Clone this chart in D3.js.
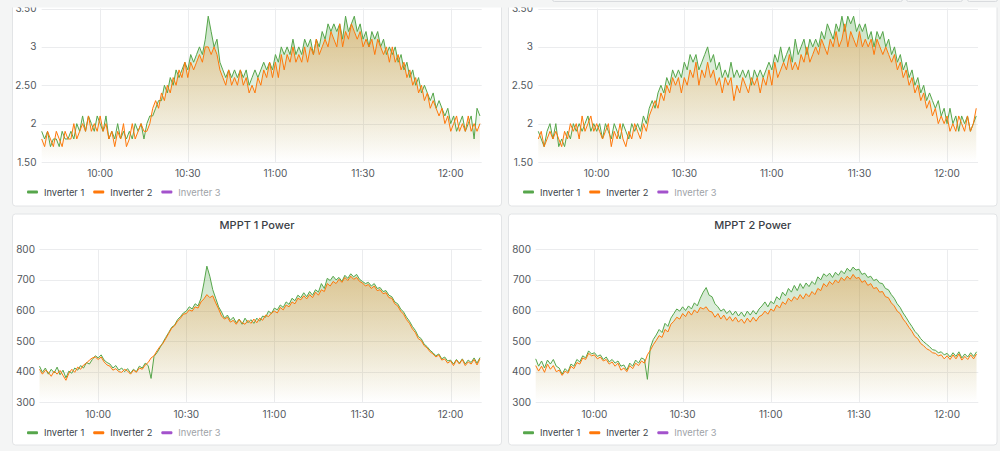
<!DOCTYPE html>
<html><head><meta charset="utf-8">
<script src="https://cdn.jsdelivr.net/npm/d3@7"></script>
<style>
html,body{margin:0;padding:0;background:#f4f5f5;}
svg{display:block;font-family:Inter, Roboto, "Noto Sans", sans-serif;}
</style></head><body>
<svg id="c" width="1000" height="451"></svg>
<script>
// ---------- DATA (one sample per minute from 09:40 to 12:10) ----------
const seriesNames = ["Inverter 1", "Inverter 2", "Inverter 3"];
const xTickLabels = ["10:00", "10:30", "11:00", "11:30", "12:00"];
const yTicksTop = [1.5, 2, 2.5, 3, 3.5];
const yTicksBottom = [300, 400, 500, 600, 700, 800];
const panelTitles = ["", "", "MPPT 1 Power", "MPPT 2 Power"];

const tlGreen = [
1.9,1.8,1.9,1.7,1.8,1.8,1.7,1.9,1.8,1.8,
1.9,1.8,2.0,1.9,2.1,1.9,2.1,2.0,1.9,2.1,
2.0,1.9,2.1,1.8,1.9,1.8,2.0,1.8,1.9,1.8,
1.9,1.8,2.0,1.9,2.0,1.8,2.0,2.1,2.1,2.2,
2.3,2.3,2.5,2.4,2.6,2.5,2.7,2.6,2.7,2.8,
2.7,2.9,2.8,2.9,3.0,2.9,3.1,3.4,3.2,3.0,
3.1,2.8,2.7,2.6,2.7,2.6,2.7,2.6,2.7,2.6,
2.7,2.5,2.6,2.7,2.6,2.7,2.8,2.7,2.8,2.7,
2.9,2.8,3.0,2.9,3.0,2.9,3.1,2.9,3.0,2.9,
3.1,3.0,3.1,2.9,3.1,3.0,3.2,3.1,3.3,3.2,
3.3,3.2,3.3,3.1,3.4,3.2,3.3,3.4,3.2,3.3,
3.1,3.2,3.0,3.2,3.1,3.2,3.0,3.1,2.9,3.0,
2.9,3.0,2.8,2.9,2.7,2.8,2.6,2.7,2.5,2.6,
2.4,2.5,2.4,2.3,2.4,2.2,2.3,2.2,2.1,2.2,
2.0,2.1,1.9,2.0,2.1,1.9,2.0,2.1,1.8,2.2,2.1];
const tlOrange = [
1.8,1.7,1.9,1.8,1.7,1.9,1.8,1.7,1.9,1.8,
1.8,2.0,1.8,1.9,2.0,1.9,2.1,1.9,2.0,1.9,
2.1,1.9,2.0,1.8,1.9,1.7,1.9,1.8,2.0,1.7,
1.8,2.0,1.8,1.9,2.0,1.9,1.9,2.0,2.2,2.3,
2.2,2.4,2.3,2.5,2.4,2.6,2.5,2.7,2.6,2.8,
2.6,2.8,2.7,2.8,2.9,2.8,3.0,3.0,2.9,3.0,
2.9,2.7,2.6,2.5,2.7,2.5,2.6,2.5,2.7,2.5,
2.6,2.4,2.5,2.4,2.6,2.5,2.7,2.6,2.8,2.6,
2.8,2.6,2.9,2.7,2.9,2.8,3.0,2.8,2.9,2.8,
3.0,2.8,3.0,2.9,3.1,2.9,3.0,3.1,3.0,3.2,
3.1,3.0,3.3,3.0,3.2,3.1,3.3,3.2,3.1,3.2,
3.0,3.1,3.0,3.1,2.9,3.1,3.0,2.9,3.0,2.8,
3.0,2.8,2.9,2.7,2.8,2.6,2.7,2.5,2.6,2.4,
2.5,2.3,2.4,2.2,2.3,2.2,2.1,2.2,2.0,2.1,
1.9,2.0,2.1,1.9,2.0,1.9,2.1,1.9,2.0,1.9,2.0];
const trGreen = [
1.9,1.8,1.7,1.9,2.0,1.8,2.0,1.7,1.8,1.7,
1.9,1.8,2.0,1.9,2.0,1.9,2.0,2.1,1.9,2.0,
1.9,2.0,1.8,2.0,1.9,1.8,2.0,1.9,1.8,2.0,
1.9,1.8,2.0,1.9,2.0,1.9,2.1,2.0,2.2,2.3,
2.2,2.4,2.5,2.4,2.6,2.5,2.7,2.6,2.7,2.6,
2.8,2.7,2.9,2.8,2.9,2.7,2.8,2.9,3.0,2.8,
2.9,2.7,2.8,2.6,2.7,2.6,2.8,2.6,2.7,2.6,
2.7,2.6,2.7,2.5,2.7,2.6,2.7,2.6,2.7,2.8,
2.7,2.9,2.8,3.0,2.8,2.9,3.0,2.8,3.1,2.9,
3.0,3.1,2.9,3.1,3.0,3.1,3.0,3.2,3.1,3.3,
3.2,3.1,3.3,3.2,3.4,3.2,3.4,3.3,3.4,3.2,
3.3,3.2,3.3,3.1,3.2,3.0,3.2,3.1,3.2,3.0,
3.1,2.9,3.0,2.8,2.9,2.7,2.8,2.6,2.7,2.5,
2.6,2.4,2.5,2.3,2.4,2.3,2.2,2.3,2.1,2.2,
2.0,2.2,2.0,2.1,1.9,2.1,2.0,2.1,1.9,2.0,2.1];
const trOrange = [
1.8,1.9,1.7,1.8,1.9,1.8,1.9,1.8,1.7,1.9,
1.8,2.0,1.9,2.0,1.8,2.1,1.9,2.0,2.1,1.9,
2.0,1.9,1.8,1.9,2.0,1.7,1.9,1.8,2.0,1.8,
1.7,1.9,1.8,2.0,1.9,1.8,2.0,1.9,2.1,2.2,
2.3,2.2,2.4,2.3,2.5,2.4,2.6,2.5,2.6,2.4,
2.6,2.5,2.7,2.6,2.8,2.5,2.7,2.6,2.8,2.6,
2.7,2.5,2.6,2.4,2.6,2.5,2.6,2.3,2.5,2.4,
2.6,2.5,2.4,2.6,2.5,2.6,2.4,2.6,2.5,2.7,
2.5,2.8,2.6,2.7,2.8,2.7,2.9,2.7,2.8,2.7,
2.9,2.8,3.0,2.8,2.9,3.0,2.9,3.1,3.0,2.9,
3.1,3.0,3.2,3.0,3.1,3.3,3.0,3.2,3.1,3.0,
3.2,3.0,3.1,3.0,3.1,2.9,3.1,3.0,2.9,3.0,
2.9,2.8,2.9,2.7,2.8,2.6,2.7,2.5,2.6,2.4,
2.5,2.3,2.4,2.2,2.3,2.1,2.2,2.0,2.1,2.0,
2.1,1.9,2.0,1.9,2.1,2.0,1.9,2.1,1.9,2.0,2.2];
const blGreen = [
418,398,412,392,408,396,415,390,405,380,
402,395,412,405,420,412,430,425,440,452,
445,455,438,430,425,412,420,405,412,400,
410,395,408,400,418,412,428,420,378,450,
462,478,495,512,528,545,552,570,580,592,
598,612,605,622,615,640,690,745,712,668,
640,612,595,575,585,568,578,560,572,555,
575,560,570,558,575,565,582,578,598,590,
608,602,618,610,628,620,640,632,650,642,
658,645,662,650,668,660,688,672,705,698,
712,700,708,695,715,705,720,710,718,702,
695,688,692,680,688,672,675,662,665,650,
645,628,622,605,595,578,565,548,535,515,
508,490,482,470,462,452,458,442,448,435,
438,425,440,428,442,425,438,430,445,428,446];
const blOrange = [
408,392,405,398,385,402,392,404,388,372,
395,408,398,415,408,422,428,438,445,448,
440,448,432,422,418,405,410,400,398,408,
402,392,405,398,412,408,422,430,445,452,
468,482,492,508,525,542,550,565,575,588,
590,602,598,612,608,628,638,652,642,648,
625,605,582,572,578,562,568,555,570,560,
555,568,558,572,560,575,568,585,580,592,
598,592,610,602,618,612,628,622,640,635,
648,638,652,642,660,650,668,662,688,680,
695,688,702,692,708,698,712,702,708,695,
690,680,685,672,680,665,668,655,658,642,
640,622,615,598,588,570,558,540,528,508,
502,485,478,465,458,448,455,438,442,428,
435,420,438,425,440,420,432,425,440,422,442];
const brGreen = [
442,418,435,412,438,425,440,418,412,392,
410,400,425,418,440,432,452,445,468,458,
462,450,455,440,448,432,440,428,435,418,
422,405,428,418,438,428,445,440,375,478,
505,520,538,528,558,548,575,590,605,598,
612,600,615,605,625,615,640,660,675,650,
645,622,612,598,605,590,600,585,598,582,
595,580,598,585,600,588,605,615,628,612,
630,622,645,635,660,648,672,660,682,665,
688,672,690,678,695,685,710,700,720,712,
722,708,725,715,730,720,738,728,742,732,
735,718,722,708,712,698,702,690,688,672,
668,652,640,622,610,592,578,562,548,532,
522,508,498,490,482,472,470,462,465,455,
460,448,462,450,465,445,458,448,462,450,465];
const brOrange = [
420,402,418,398,425,408,420,400,405,388,
402,395,418,410,430,425,445,440,460,452,
455,442,448,435,440,425,432,418,428,405,
412,400,420,410,428,420,435,428,455,470,
488,502,518,512,538,530,555,565,578,572,
590,580,598,585,602,592,610,605,612,598,
595,578,590,572,585,568,580,565,578,562,
572,558,575,562,578,565,580,585,598,588,
605,598,618,608,628,620,640,630,645,635,
652,638,655,645,662,652,672,665,688,678,
695,685,700,690,708,698,712,702,718,705,
708,692,698,682,688,672,675,660,662,645,
642,625,615,598,590,572,560,545,532,515,
508,492,485,475,470,462,460,452,455,442,
452,440,455,442,458,438,450,440,455,442,458];

// ---------- RENDER ----------
const startTime = new Date(2024, 0, 1, 9, 40, 0);
const endTime = new Date(2024, 0, 1, 12, 10, 36);
const timeAt = i => new Date(startTime.getTime() + i * 60000);
const tickTimes = xTickLabels.map(s => { const [h, m] = s.split(":").map(Number); return new Date(2024, 0, 1, h, m); });

const colors = ["#56a64b", "#ff780a", "#a352cc"];
const svg = d3.select("#c");
const defs = svg.append("defs");

svg.append("rect").attr("width", 1000).attr("height", 451).attr("fill", "#f4f5f5");

const panels = [
  {box: [12.5, -30, 489, 236], xr: [41.7, 481.7], yr: [162, 8.5], dom: [1.5, 3.5], ticks: yTicksTop, labX: 36.5, data: [tlGreen, tlOrange], title: panelTitles[0], xLabY: 173, legY: 192},
  {box: [508.5, -30, 488.5, 236], xr: [538.3, 978], yr: [162, 8.5], dom: [1.5, 3.5], ticks: yTicksTop, labX: 533, data: [trGreen, trOrange], title: panelTitles[1], xLabY: 173, legY: 192},
  {box: [12.5, 214, 489, 231], xr: [39.5, 481.7], yr: [402.3, 249.3], dom: [300, 800], ticks: yTicksBottom, labX: 35, data: [blGreen, blOrange], title: panelTitles[2], xLabY: 414.5, legY: 432.7},
  {box: [508.5, 214, 488.5, 231], xr: [535.7, 978.3], yr: [402.3, 249.3], dom: [300, 800], ticks: yTicksBottom, labX: 531, data: [brGreen, brOrange], title: panelTitles[3], xLabY: 414.5, legY: 432.7}
];

const fmtY = v => (v % 1 === 0 ? String(v) : v.toFixed(2));

panels.forEach((p, pi) => {
  const g = svg.append("g");
  const [bx, by, bw, bh] = p.box;
  g.append("rect").attr("x", bx).attr("y", by).attr("width", bw).attr("height", bh)
    .attr("rx", 3).attr("fill", "#ffffff").attr("stroke", "#e2e4e6").attr("stroke-width", 1);

  if (p.title) {
    g.append("text").attr("x", bx + bw / 2).attr("y", 229)
      .attr("text-anchor", "middle").attr("font-size", 11).attr("font-weight", 500)
      .attr("fill", "#3b4046").text(p.title);
  }

  const x = d3.scaleTime().domain([startTime, endTime]).range(p.xr);
  const y = d3.scaleLinear().domain(p.dom).range(p.yr);

  // grid
  g.append("g").selectAll("line.h").data(p.ticks).join("line")
    .attr("x1", p.xr[0]).attr("x2", p.xr[1])
    .attr("y1", d => Math.round(y(d)) + 0.5).attr("y2", d => Math.round(y(d)) + 0.5)
    .attr("stroke", "#ebecee").attr("stroke-width", 1);
  g.append("g").selectAll("line.v").data(tickTimes).join("line")
    .attr("x1", d => Math.round(x(d)) + 0.5).attr("x2", d => Math.round(x(d)) + 0.5)
    .attr("y1", p.yr[1]).attr("y2", p.yr[0])
    .attr("stroke", "#ebecee").attr("stroke-width", 1);

  // y labels
  g.append("g").selectAll("text").data(p.ticks).join("text")
    .attr("x", p.labX).attr("y", d => y(d) + 3.5)
    .attr("text-anchor", "end").attr("font-size", 10).attr("fill", "#52575d")
    .text(fmtY);
  // x labels
  g.append("g").selectAll("text").data(tickTimes).join("text")
    .attr("x", d => x(d)).attr("y", p.xLabY + 3.5)
    .attr("text-anchor", "middle").attr("font-size", 10).attr("fill", "#52575d")
    .text((d, i) => xTickLabels[i]);

  // series fills
  p.data.forEach((vals, si) => {
    const gid = `grad${pi}_${si}`;
    const lg = defs.append("linearGradient").attr("id", gid)
      .attr("gradientUnits", "userSpaceOnUse")
      .attr("x1", 0).attr("x2", 0).attr("y1", p.yr[1]).attr("y2", p.yr[0]);
    lg.append("stop").attr("offset", 0).attr("stop-color", colors[si]).attr("stop-opacity", 0.34);
    lg.append("stop").attr("offset", 1).attr("stop-color", colors[si]).attr("stop-opacity", 0.0);

    const pts = vals.map((v, i) => [timeAt(i), v]);
    const area = d3.area().x(d => x(d[0])).y0(p.yr[0]).y1(d => y(d[1]));
    g.append("path").attr("d", area(pts)).attr("fill", `url(#${gid})`);
  });
  // series lines
  p.data.forEach((vals, si) => {
    const pts = vals.map((v, i) => [timeAt(i), v]);
    const line = d3.line().x(d => x(d[0])).y(d => y(d[1]));
    g.append("path").attr("d", line(pts)).attr("fill", "none")
      .attr("stroke", colors[si]).attr("stroke-width", 1).attr("stroke-linejoin", "round");
  });

  // legend
  let lx = bx + 14.5;
  seriesNames.forEach((name, si) => {
    g.append("rect").attr("x", lx).attr("y", p.legY - 1.5).attr("width", 11).attr("height", 3)
      .attr("rx", 1).attr("fill", colors[si]);
    const t = g.append("text").attr("x", lx + 17).attr("y", p.legY + 3.5)
      .attr("font-size", 9.3).attr("fill", si === 2 ? "#9ea2a7" : "#40454b").text(name);
    lx = lx + 17 + t.node().getComputedTextLength() + 9;
  });
});

// sticky header strip at the top (dashboard toolbar, mostly scrolled off)
svg.append("rect").attr("x", 0).attr("y", 0).attr("width", 1000).attr("height", 7.5).attr("fill", "#f4f5f5");
svg.append("rect").attr("x", 552.5).attr("y", -20).attr("width", 350).attr("height", 21.5)
  .attr("rx", 2).attr("fill", "#f4f5f5").attr("stroke", "#d9dbde");
svg.append("rect").attr("x", 906.5).attr("y", -20).attr("width", 56).attr("height", 21.5)
  .attr("rx", 2).attr("fill", "#f4f5f5").attr("stroke", "#d9dbde");
svg.append("rect").attr("x", 967.5).attr("y", -20).attr("width", 30).attr("height", 21.5)
  .attr("rx", 2).attr("fill", "#f4f5f5").attr("stroke", "#d9dbde");
</script>
</body></html>
